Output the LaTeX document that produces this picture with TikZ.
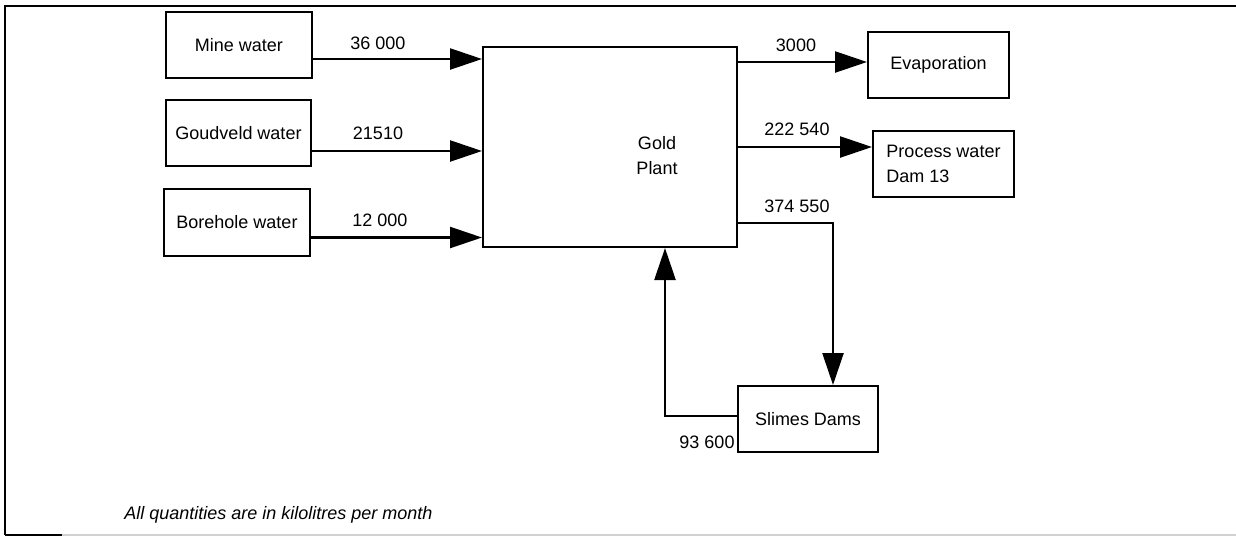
\documentclass[tikz,border=0pt]{standalone}
\usepackage{fontspec}
\setmainfont{Liberation Sans}
\usetikzlibrary{arrows.meta,calc}
\begin{document}
\begin{tikzpicture}[x=0.5pt,y=-0.5pt,
  every node/.style={font=\fontsize{9pt}{12.5pt}\selectfont},
  box/.style={draw,line width=1pt,inner sep=0pt,align=center},
  lbl/.style={inner sep=0pt},
  flow/.style={line width=1.2pt,-{Triangle[length=16pt,width=10.5pt]}},
  frame/.style={line width=0.8pt}
]
\useasboundingbox[fill=white] (0,0) rectangle (1236,537);
% frame
\draw[frame] (5,535) -- (5,6) -- (1236,6);
\draw[frame] (5,535) -- (62,535);
\draw[gray!35,line width=0.6pt] (62,535) -- (1236,535);

% boxes
\node[box,minimum width=73pt,minimum height=33pt] (mine) at (239,45) {Mine water};
\node[box,minimum width=72.5pt,minimum height=33pt] (goud) at (238.5,133) {Goudveld water};
\node[box,minimum width=73pt,minimum height=33.5pt] (bore) at (237,222.5) {Borehole water};
\node[box,minimum width=127pt,minimum height=100pt] (plant) at (610,147) {};
\node[lbl,align=center] (plantlbl) at (657,156) {Gold\\Plant};
\node[box,minimum width=70.5pt,minimum height=33pt] (evap) at (938.5,65) {Evaporation};
\node[box,minimum width=70.5pt,minimum height=33pt,align=left] (proc) at (943.5,164) {Process water\\Dam 13};
\node[box,minimum width=70pt,minimum height=33pt] (slime) at (808,419) {Slimes Dams};

% inflows
\draw[flow] ([yshift=-7pt]mine.east) -- ([yshift=-7pt]mine.east -| plant.west);
\draw[flow] ([yshift=-9pt]goud.east) -- ([yshift=-9pt]goud.east -| plant.west);
\draw[flow] ([yshift=-7.5pt]bore.east) -- ([yshift=-7.5pt]bore.east -| plant.west);
% outflows
\draw[flow] ([yshift=1.5pt]evap.west -| plant.east) -- ([yshift=1.5pt]evap.west);
\draw[flow] ([yshift=8.5pt]proc.west -| plant.east) -- ([yshift=8.5pt]proc.west);
\coordinate (turn1) at ($([yshift=-38pt]plant.east -| slime.north)+(25,0)$);
\draw[flow] ([yshift=-38pt]plant.east) -- (turn1) -- (turn1 |- slime.north);
% return
\coordinate (turn2) at ($([yshift=1.5pt]slime.west -| plant.south)+(55,0)$);
\draw[flow] ([yshift=1.5pt]slime.west) -- (turn2) -- (turn2 |- plant.south);

% labels
\node[lbl] (l1) at (378,43) {36 000};
\node[lbl] (l2) at (378,133) {21510};
\node[lbl] (l3) at (380,220) {12 000};
\node[lbl] (l4) at (796,45) {3000};
\node[lbl] (l5) at (797,129) {222 540};
\node[lbl] (l6) at (797,206) {374 550};
\node[lbl] (l7) at (707,442) {93 600};
\node[lbl,font=\fontsize{9pt}{11pt}\selectfont\itshape] (note) at (278.5,515) {All quantities are in kilolitres per month};
\end{tikzpicture}
\end{document}
